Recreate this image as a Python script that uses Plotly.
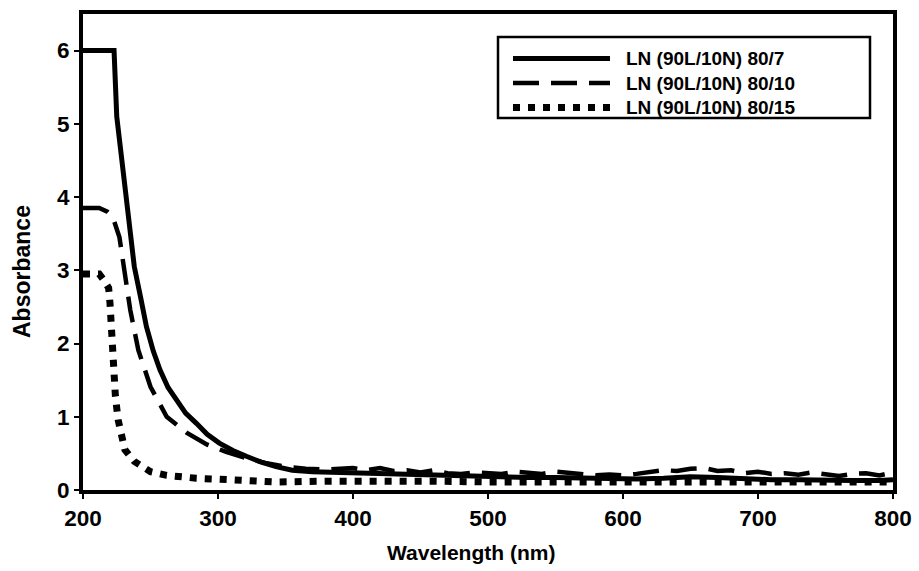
import plotly.graph_objects as go

# --- data ---
x_80_7 = [200, 223, 225, 229, 233, 238, 243, 247, 252, 257, 263, 269, 276, 284, 292, 301, 311, 321, 332, 343, 355,
          370, 390, 410, 430, 450, 470, 490, 510, 530, 550, 570, 590, 610, 630, 650, 670, 690, 710, 730, 750, 770, 790, 800]
y_80_7 = [6.0, 6.0, 5.1, 4.5, 3.8, 3.05, 2.6, 2.23, 1.9, 1.64, 1.4, 1.23, 1.05, 0.91, 0.76, 0.64, 0.54, 0.46, 0.38, 0.32, 0.27,
          0.25, 0.24, 0.22, 0.21, 0.20, 0.19, 0.19, 0.18, 0.17, 0.17, 0.16, 0.15, 0.15, 0.16, 0.18, 0.17, 0.15, 0.14, 0.14, 0.13, 0.13, 0.13, 0.14]

x_80_10 = [200, 212, 218, 222, 227, 231, 235, 241, 250, 262, 277, 292, 306, 320, 335, 350, 365, 380,
           400, 410, 420, 430, 440, 450, 460, 470, 480, 490, 500, 510, 520, 530, 540, 550, 560, 570, 580, 590,
           600, 610, 620, 630, 640, 650, 660, 670, 680, 690, 700, 710, 720, 730, 740, 750, 760, 770, 780, 790, 800]
y_80_10 = [3.85, 3.85, 3.8, 3.73, 3.45, 2.97, 2.46, 1.91, 1.41, 1.0, 0.78, 0.62, 0.52, 0.44, 0.37, 0.32, 0.29, 0.28,
           0.30, 0.27, 0.30, 0.26, 0.27, 0.24, 0.27, 0.23, 0.22, 0.24, 0.23, 0.22, 0.25, 0.24, 0.22, 0.25, 0.23, 0.21, 0.20, 0.21,
           0.20, 0.22, 0.25, 0.27, 0.26, 0.29, 0.30, 0.26, 0.27, 0.23, 0.25, 0.22, 0.23, 0.21, 0.24, 0.22, 0.19, 0.22, 0.23, 0.20, 0.24]

x_80_15 = [200, 212, 216, 219, 220, 221, 222, 224, 226, 229, 231, 238, 250, 262, 284, 309, 343, 380,
           420, 460, 500, 540, 580, 620, 660, 700, 740, 780, 800]
y_80_15 = [2.95, 2.95, 2.85, 2.76, 2.55, 2.19, 1.64, 1.28, 0.96, 0.75, 0.55, 0.39, 0.25, 0.20, 0.16, 0.14, 0.11, 0.12,
           0.13, 0.12, 0.11, 0.11, 0.10, 0.10, 0.11, 0.10, 0.10, 0.10, 0.11]

names = ["LN (90L/10N) 80/7", "LN (90L/10N) 80/10", "LN (90L/10N) 80/15"]
x_ticks = [200, 300, 400, 500, 600, 700, 800]
y_ticks = [0, 1, 2, 3, 4, 5, 6]

FAM = "Liberation Sans, Arial, sans-serif"
TICKFONT = dict(family=FAM, size=22.5, color="black", weight="bold")
XTITLEFONT = dict(family=FAM, size=21, color="black", weight="bold")
YTITLEFONT = dict(family=FAM, size=23, color="black", weight="bold")
LEGFONT = dict(family=FAM, size=19, color="black", weight="bold")

styles = [dict(color="black", width=5, dash="solid"),
          dict(color="black", width=4.5, dash="26px,12px"),
          dict(color="black", width=7, dash="7px,8px")]

fig = go.Figure()
for xs, ys, nm, st in zip([x_80_7, x_80_10, x_80_15], [y_80_7, y_80_10, y_80_15], names, styles):
    fig.add_trace(go.Scatter(x=xs, y=ys, mode="lines", name=nm, line=st, showlegend=False))

axis_common = dict(showline=True, linewidth=4, linecolor="black", mirror=True,
                   ticks="outside", ticklen=5, tickwidth=2, tickcolor="black",
                   showgrid=False, zeroline=False, tickfont=TICKFONT, automargin=False)

fig.update_xaxes(range=[200, 800], tickvals=x_ticks, ticktext=[str(v) for v in x_ticks], **axis_common)
fig.update_yaxes(range=[0, 6.5], tickvals=y_ticks, ticktext=[str(v) for v in y_ticks], **axis_common)

# --- positions in px converted to paper coordinates ---
L, R, T, B = 83, 893, 14, 490  # plot area in px (matches margins below)
def px(xp):
    return (xp - L) / (R - L)
def py(yp):
    return (B - yp) / (B - T)

shapes = [dict(type="rect", xref="paper", yref="paper",
               x0=px(498), x1=px(870), y0=py(118), y1=py(37),
               line=dict(color="black", width=2.5), fillcolor="white", layer="above")]
rows = [58.5, 83, 107.5]
for st, r in zip(styles, rows):
    shapes.append(dict(type="line", xref="paper", yref="paper",
                       x0=px(513), x1=px(610), y0=py(r), y1=py(r),
                       line=dict(color="black", width=st["width"], dash=st["dash"]), layer="above"))

annotations = [
    dict(xref="paper", yref="paper", x=px(624), y=py(83), xanchor="left", yanchor="middle",
         align="left", text="<br>".join(names), showarrow=False, font=LEGFONT),
    dict(xref="paper", yref="paper", x=px(22), y=py(271), xanchor="center", yanchor="middle",
         textangle=-90, text="Absorbance", showarrow=False, font=YTITLEFONT),
    dict(xref="paper", yref="paper", x=px(471), y=py(552), xanchor="center", yanchor="middle",
         text="Wavelength (nm)", showarrow=False, font=XTITLEFONT),
]

fig.update_layout(
    width=919, height=571,
    margin=dict(l=83, r=26, t=14, b=81),
    plot_bgcolor="white", paper_bgcolor="white",
    font=TICKFONT,
    showlegend=False,
    shapes=shapes,
    annotations=annotations,
)

fig.write_html("out.html")
